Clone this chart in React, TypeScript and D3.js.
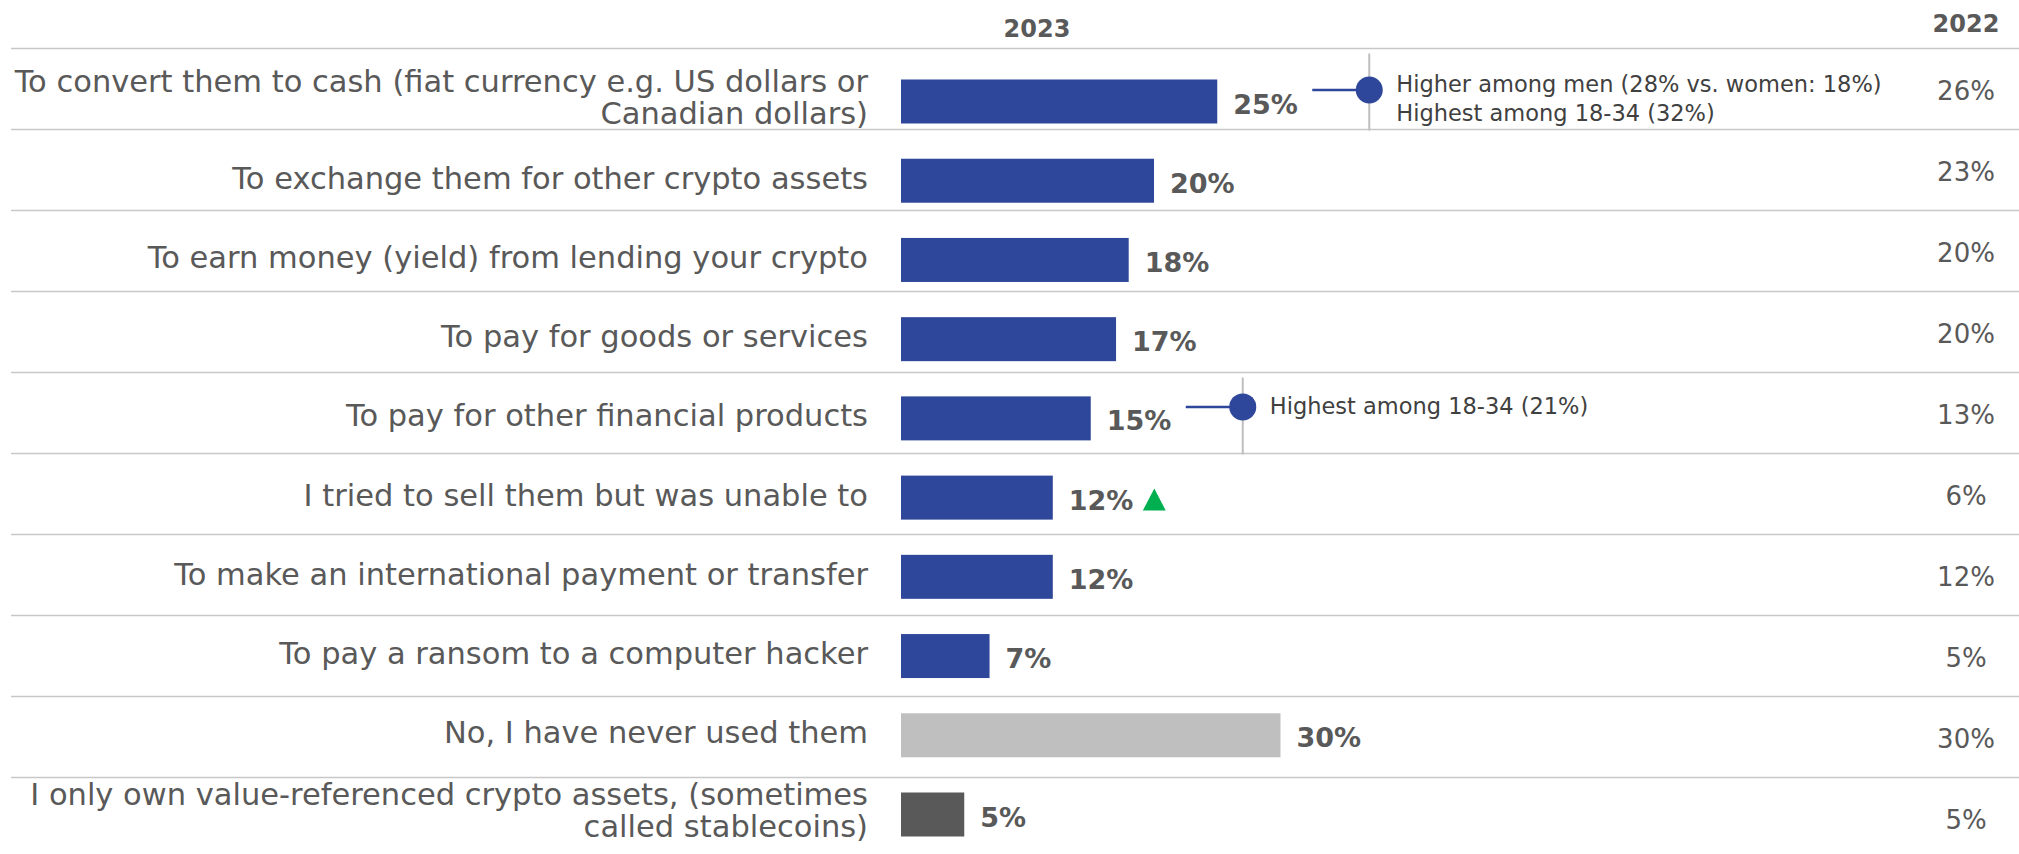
import React from "react";
import * as d3 from "d3";

const categories: string[][] = [
  ["To convert them to cash (fiat currency e.g. US dollars or", "Canadian dollars)"],
  ["To exchange them for other crypto assets"],
  ["To earn money (yield) from lending your crypto"],
  ["To pay for goods or services"],
  ["To pay for other financial products"],
  ["I tried to sell them but was unable to"],
  ["To make an international payment or transfer"],
  ["To pay a ransom to a computer hacker"],
  ["No, I have never used them"],
  ["I only own value-referenced crypto assets, (sometimes", "called stablecoins)"],
];

const values2023 = [25, 20, 18, 17, 15, 12, 12, 7, 30, 5];
const values2022 = [26, 23, 20, 20, 13, 6, 12, 5, 30, 5];
const barGroup = ["used", "used", "used", "used", "used", "used", "used", "used", "never", "stable"];
const upArrowRows = [5];

const annotationRows = [0, 4];
const annotationTexts: string[][] = [
  ["Higher among men (28% vs. women: 18%)", "Highest among 18-34 (32%)"],
  ["Highest among 18-34 (21%)"],
];

const headers = ["2023", "2022"];

const W = 2019;
const H = 854;
const FONT = "'DejaVu Sans', sans-serif";

const colorScale = d3
  .scaleOrdinal<string, string>()
  .domain(["used", "never", "stable"])
  .range(["#2F479A", "#BFBFBF", "#595959"]);

export default function App() {
  const idx = d3.range(categories.length);
  const x = d3.scaleLinear().domain([0, 30]).range([901, 1280.5]);
  const yBar = d3.scalePoint<number>().domain(idx).range([101.5, 814.5]);
  const yRow = d3.scaleLinear().domain([0, categories.length]).range([48.5, 858.5]);
  const barH = 44;
  const col2022 = 1966;
  const labelRight = 868;

  return (
    <svg
      width={W}
      height={H}
      style={{ position: "fixed", left: 0, top: 0, background: "#fff" }}
      fontFamily={FONT}
    >
      <rect x={0} y={0} width={W} height={H} fill="#fff" />
      <text x={1037} y={37} textAnchor="middle" fontSize={24} fontWeight="bold" fill="#595959">
        {headers[0]}
      </text>
      <text x={col2022} y={32} textAnchor="middle" fontSize={24} fontWeight="bold" fill="#595959">
        {headers[1]}
      </text>

      {d3.range(categories.length).map((i) => (
        <line
          key={"sep" + i}
          x1={11}
          x2={W}
          y1={yRow(i)}
          y2={yRow(i)}
          stroke="#C8C8C8"
          strokeWidth={1.6}
        />
      ))}

      {idx.map((i) => {
        const cy = yBar(i)!;
        const v = values2023[i];
        const lines = categories[i];
        const baselines = lines.length === 2 ? [cy - 10, cy + 22] : [cy + 8];
        const labelX = x(v) + 16;
        return (
          <g key={"row" + i}>
            {lines.map((t, k) => (
              <text
                key={k}
                x={labelRight}
                y={baselines[k]}
                textAnchor="end"
                fontSize={30.5}
                fill="#595959"
              >
                {t}
              </text>
            ))}
            <rect
              x={x(0)}
              y={cy - barH / 2}
              width={x(v) - x(0)}
              height={barH}
              fill={colorScale(barGroup[i])}
            />
            <text x={labelX} y={cy + 12} fontSize={27} fontWeight="bold" fill="#595959">
              {v + "%"}
            </text>
            {upArrowRows.includes(i) && (
              <path
                d={`M${labelX + 74},${cy + 13} L${labelX + 97},${cy + 13} L${labelX + 85.5},${cy - 9} Z`}
                fill="#00B050"
              />
            )}
            <text
              x={col2022}
              y={yRow(i) + 51}
              textAnchor="middle"
              fontSize={26}
              fill="#595959"
            >
              {values2022[i] + "%"}
            </text>
          </g>
        );
      })}

      {annotationRows.map((r, a) => {
        const cy = yBar(r)! - 11.5;
        const x0 = x(values2023[r]) + 95;
        const xc = x(values2023[r]) + 152;
        const texts = annotationTexts[a];
        const first = texts.length === 2 ? cy + 2 : cy + 7;
        return (
          <g key={"ann" + a}>
            <line x1={xc} x2={xc} y1={yRow(r) + 5} y2={yRow(r + 1) + 1} stroke="#BFBFBF" strokeWidth={2} />
            <line x1={x0} x2={xc} y1={cy} y2={cy} stroke="#2F479A" strokeWidth={2.5} />
            <circle cx={xc} cy={cy} r={13.5} fill="#2F479A" />
            {texts.map((t, k) => (
              <text key={k} x={xc + 27} y={first + k * 29} fontSize={22.5} fill="#404040">
                {t}
              </text>
            ))}
          </g>
        );
      })}
    </svg>
  );
}
